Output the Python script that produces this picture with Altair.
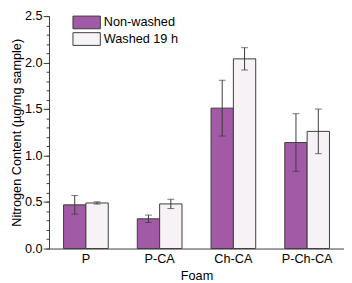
import altair as alt
import pandas as pd

foam = ["P", "P-CA", "Ch-CA", "P-Ch-CA"]
series = ["Non-washed", "Washed 19 h"]
non_washed = [0.47, 0.32, 1.51, 1.14]
non_washed_err = [0.10, 0.04, 0.30, 0.31]
washed = [0.49, 0.48, 2.04, 1.26]
washed_err = [0.012, 0.05, 0.12, 0.24]
colors = ["#a259a6", "#f7f2f5"]

rows = []
for i, f in enumerate(foam):
    rows.append({"foam": f, "series": series[0], "value": non_washed[i], "err": non_washed_err[i]})
    rows.append({"foam": f, "series": series[1], "value": washed[i], "err": washed_err[i]})
df = pd.DataFrame(rows)
df["lo"] = df["value"] - df["err"]
df["hi"] = df["value"] + df["err"]

FONT = "Liberation Sans"
DARK = "#3a3a3a"
FS = 13

xenc = alt.X("foam:N", sort=foam, scale=alt.Scale(paddingInner=0, paddingOuter=0),
             axis=alt.Axis(title="Foam", labelAngle=0, ticks=False, labelPadding=4,
                           domainColor=DARK, labelColor="black", titleColor="black",
                           labelFontSize=FS, titleFontSize=FS, titleFontWeight="normal",
                           labelFont=FONT, titleFont=FONT, titlePadding=5))
xoff = alt.XOffset("series:N", sort=series, scale=alt.Scale(paddingInner=0, paddingOuter=0.65))
yscale = alt.Scale(domain=[0, 2.5], nice=False, zero=True)

major_axis = alt.Axis(title="Nitrogen Content (µg/mg sample)", values=[0, 0.5, 1.0, 1.5, 2.0, 2.5],
                      format=".1f", grid=False, tickSize=6, tickColor=DARK, domainColor=DARK,
                      labelColor="black", titleColor="black", labelFontSize=FS, titleFontSize=FS,
                      titleFontWeight="normal", labelFont=FONT, titleFont=FONT, labelPadding=1,
                      titlePadding=1, orient="left")
minor_axis = alt.Axis(title=None, values=[round(v * 0.1, 1) for v in range(26)], labels=False,
                      domain=False, grid=False, tickSize=3, tickColor=DARK, orient="left")

base = alt.Chart(df)

bars = base.mark_bar(stroke=DARK, strokeWidth=1).encode(
    x=xenc, xOffset=xoff,
    y=alt.Y("value:Q", scale=yscale, axis=major_axis),
    color=alt.Color("series:N", sort=series, scale=alt.Scale(domain=series, range=colors),
                    legend=alt.Legend(title=None, orient="none", legendX=31, legendY=-1,
                                      symbolType="M-2,-0.93H2V0.93H-2Z", symbolSize=196,
                                      symbolStrokeColor=DARK, symbolStrokeWidth=1,
                                      symbolOpacity=1, labelFontSize=FS, labelFont=FONT,
                                      labelColor="black", labelOffset=10, rowPadding=-4)),
)

rules = base.mark_rule(color=DARK, strokeWidth=1).encode(
    x=xenc, xOffset=xoff,
    y=alt.Y("lo:Q", scale=yscale, axis=None), y2="hi:Q",
)
cap_hi = base.mark_tick(color=DARK, thickness=1, size=7, orient="horizontal").encode(
    x=xenc, xOffset=xoff, y=alt.Y("hi:Q", scale=yscale, axis=None))
cap_lo = base.mark_tick(color=DARK, thickness=1, size=7, orient="horizontal").encode(
    x=xenc, xOffset=xoff, y=alt.Y("lo:Q", scale=yscale, axis=None))

minor = base.mark_point(opacity=0).encode(
    y=alt.Y("value:Q", scale=yscale, axis=minor_axis))

chart = alt.layer(bars, rules, cap_hi, cap_lo, minor).resolve_axis(y="independent").properties(
    width=302, height=238,
    autosize=alt.AutoSizeParams(type="none"),
    padding={"left": 42, "top": 5, "right": 0, "bottom": 32},
    background="white",
).configure_view(stroke=None)

chart.save("out.html", embed_options={"renderer": "svg", "actions": False})
